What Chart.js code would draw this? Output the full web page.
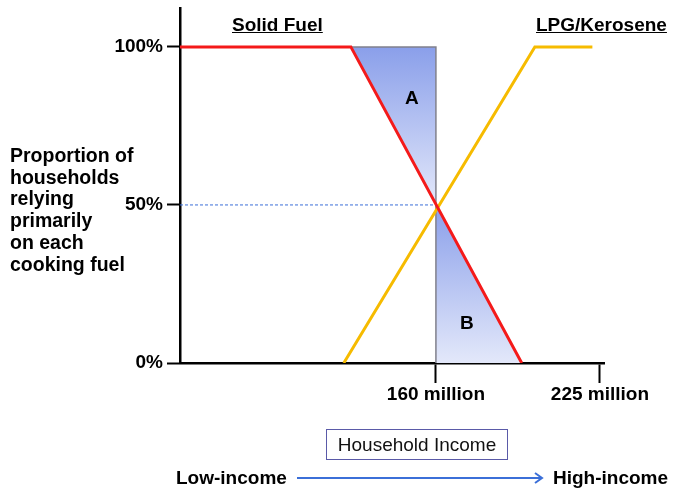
<!DOCTYPE html>
<html>
<head>
<meta charset="utf-8">
<script src="https://cdn.jsdelivr.net/npm/chart.js@4.4.1/dist/chart.umd.min.js"></script>
<style>
body { margin: 0; background: #fff; font-family: 'Liberation Sans', Arial, sans-serif; }
#wrap { position: relative; width: 673px; height: 492px; }
#wrap canvas { position: absolute; left: 0; top: 0; }
.lbl { position: absolute; font-weight: bold; font-size: 19px; line-height: 22px; color: #000; white-space: nowrap; }
.u { text-decoration: underline; }
#ytitle { left: 10px; top: 145px; line-height: 21.7px; font-size: 19.5px; }
#box { position: absolute; left: 326px; top: 429px; width: 180px; height: 29px; border: 1.5px solid #5a5aa8;
       font-size: 19px; line-height: 29px; text-align: center; color: #111; }
</style>
</head>
<body>
<div id="wrap">
  <canvas id="fuelChart" width="673" height="492"></canvas>
  <div class="lbl" id="ytitle">Proportion of<br>households<br>relying<br>primarily<br>on each<br>cooking fuel</div>
  <div class="lbl u" style="left:232px; top:14px;">Solid Fuel</div>
  <div class="lbl u" style="left:536px; top:14px;">LPG/Kerosene</div>
  <div class="lbl" style="left:405px; top:87px;">A</div>
  <div class="lbl" style="left:460px; top:312px;">B</div>
  <div id="box">Household Income</div>
  <div class="lbl" style="left:176px; top:467px;">Low-income</div>
  <svg style="position:absolute; left:295px; top:470px;" width="254" height="16">
    <line x1="2" y1="8" x2="246" y2="8" stroke="#3b6fd8" stroke-width="2"/>
    <polyline points="240,3 247,8 240,13" fill="none" stroke="#3b6fd8" stroke-width="2"/>
  </svg>
  <div class="lbl" style="left:553px; top:467px;">High-income</div>
</div>
<script>
// (x in millions, y in %)
const solidX = [58.6, 126.3, 194];
const solidY = [100, 100, 0];
const lpgX = [123.5, 199.2, 222];
const lpgY = [0, 100, 100];

// shaded areas A and B either side of the 160 million split
const areaAX = [126.3, 160];
const areaAY = [100, 50];
const areaBX = [160, 194];
const areaBY = [50, 0];
const splitX = [126.3, 160, 160];
const splitY = [100, 100, 0];
const midX = [58.6, 160];
const midY = [50, 50];

const xTicks = [160, 225];
const xTickLabels = ['160 million', '225 million'];
const yTicks = [0, 50, 100];
const yTickLabels = ['0%', '50%', '100%'];

const pts = (xs, ys) => xs.map((x, i) => ({ x: x, y: ys[i] }));

function shade(from, to) {
    return (c) => {
        const ch = c.chart;
        if (!ch.chartArea) return 'rgba(140,160,235,0.6)';
        const y = ch.scales.y;
        const g = ch.ctx.createLinearGradient(0, y.getPixelForValue(from), 0, y.getPixelForValue(to));
        g.addColorStop(0, '#8a9fea');
        g.addColorStop(1, '#e3e8fa');
        return g;
    };
}

const noPts = { pointRadius: 0, pointHoverRadius: 0 };

Chart.defaults.font.family = "'Liberation Sans', Arial, sans-serif";

const ctx = document.getElementById('fuelChart').getContext('2d');

const chart = new Chart(ctx, {
    type: 'line',
    data: {
        datasets: [
            { label: 'Solid Fuel', data: pts(solidX, solidY), borderColor: '#f41a1a', borderWidth: 3, order: 0, ...noPts },
            { label: 'LPG/Kerosene', data: pts(lpgX, lpgY), borderColor: '#f6bb00', borderWidth: 3, order: 1, ...noPts },
            { label: 'A', data: pts(areaAX, areaAY), borderWidth: 0, fill: { value: 100 }, backgroundColor: shade(100, 50), order: 5, ...noPts },
            { label: 'B', data: pts(areaBX, areaBY), borderWidth: 0, fill: { value: 0 }, backgroundColor: shade(50, 0), order: 5, ...noPts },
            { label: 'split', data: pts(splitX, splitY), borderColor: '#80808c', borderWidth: 1.5, order: 3, ...noPts },
            { label: 'mid', data: pts(midX, midY), borderColor: '#3b6fd8', borderWidth: 1, borderDash: [3, 2], order: 2, ...noPts }
        ]
    },
    options: {
        responsive: false,
        animation: false,
        layout: { padding: { left: 0, top: 8, right: 69, bottom: 0 } },
        plugins: { legend: { display: false }, tooltip: { enabled: false } },
        scales: {
            x: {
                type: 'linear', min: 58.6, max: 226.6,
                afterBuildTicks: s => { s.ticks = xTicks.map(v => ({ value: v })); },
                afterFit: s => { s.height = 129; s.paddingLeft = 0; s.paddingRight = 0; },
                grid: { drawOnChartArea: false, drawTicks: true, tickLength: 20, tickColor: '#000', tickWidth: 2 },
                border: { display: true, color: '#000', width: 2.5 },
                ticks: {
                    padding: 0, maxRotation: 0, autoSkip: false, color: '#000',
                    font: { size: 19, weight: 'bold' },
                    callback: (v, i) => xTickLabels[i]
                }
            },
            y: {
                min: 0, max: 112.3,
                afterBuildTicks: s => { s.ticks = yTicks.map(v => ({ value: v })); },
                afterFit: s => { s.width = 180; s.paddingTop = 0; s.paddingBottom = 0; },
                grid: { drawOnChartArea: false, drawTicks: true, tickLength: 13, tickColor: '#000', tickWidth: 2 },
                border: { display: true, color: '#000', width: 2.5 },
                ticks: {
                    padding: 4, autoSkip: false, color: '#000',
                    font: { size: 19, weight: 'bold' },
                    callback: (v, i) => yTickLabels[i]
                }
            }
        }
    }
});
</script>
</body>
</html>
